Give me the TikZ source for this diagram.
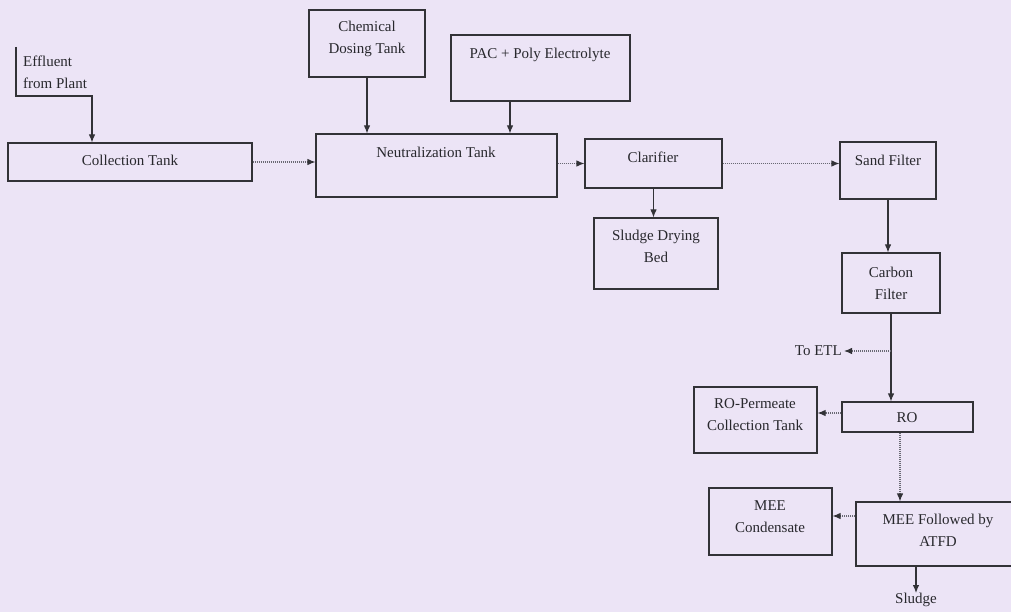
\documentclass[tikz,border=0pt]{standalone}
\usepackage{fontspec}
\setmainfont{Liberation Serif}
\usetikzlibrary{arrows.meta}
\definecolor{bgcol}{RGB}{236,228,246}
\definecolor{linecol}{RGB}{50,50,55}
\definecolor{dotcol}{RGB}{105,105,115}
\definecolor{txtcol}{RGB}{40,40,45}
\tikzset{
  box/.style={draw=linecol, line width=1.1pt, inner sep=0pt, rectangle},
  lbl/.style={text=txtcol, font=\fontsize{15}{22}\selectfont, align=center, inner sep=0pt},
  solidarr/.style={draw=linecol, line width=1.1pt, -{Latex[length=8pt,width=6.5pt]}},
  dotarr/.style={draw=dotcol, line width=1.1pt, dash pattern=on 1.2pt off 0.8pt, -{Latex[length=8pt,width=6.5pt,fill=linecol,color=linecol]}},
}
\begin{document}
\begin{tikzpicture}[x=1pt,y=-1pt]
\fill[bgcol] (0,0) rectangle (1011,612);
\useasboundingbox (0,0) rectangle (1011,612);
\clip (0,0) rectangle (1011,612);

% boxes
\node[box, minimum width=244pt, minimum height=38pt] (coll) at (130,162) {};
\node[box, minimum width=116pt, minimum height=67pt] (chem) at (367,43.5) {};
\node[box, minimum width=179pt, minimum height=66pt] (pac) at (540.5,68) {};
\node[box, minimum width=241pt, minimum height=63pt] (neut) at (436.5,165.5) {};
\node[box, minimum width=137pt, minimum height=49pt] (clar) at (653.5,163.5) {};
\node[box, minimum width=96pt, minimum height=57pt] (sand) at (888,170.5) {};
\node[box, minimum width=124pt, minimum height=71pt] (sdb) at (656,253.5) {};
\node[box, minimum width=98pt, minimum height=60pt] (carb) at (891,283) {};
\node[box, minimum width=131pt, minimum height=30pt] (ro) at (907.5,417) {};
\node[box, minimum width=123pt, minimum height=66pt] (perm) at (755.5,420) {};
\node[box, minimum width=164pt, minimum height=64pt] (mee) at (938,534) {};
\node[box, minimum width=123pt, minimum height=67pt] (cond) at (770.5,521.5) {};

% texts
\node[lbl] (coll-t) at (130,160) {Collection Tank};
\node[lbl] (chem-t) at (367,39) {Chemical\\Dosing Tank};
\node[lbl] (pac-t) at (540,55) {PAC + Poly Electrolyte};
\node[lbl] (neut-t) at (436,152) {Neutralization Tank};
\node[lbl] (clar-t) at (653,157) {Clarifier};
\node[lbl] (sand-t) at (888,160) {Sand Filter};
\node[lbl] (sdb-t) at (656,246) {Sludge Drying\\Bed};
\node[lbl] (carb-t) at (891,283) {Carbon\\Filter};
\node[lbl] (ro-t) at (907,418) {RO};
\node[lbl] (perm-t) at (755,415) {RO-Permeate\\Collection Tank};
\node[lbl] (mee-t) at (938,530) {MEE Followed by\\ATFD};
\node[lbl] (cond-t) at (770,517) {MEE\\Condensate};
\node[lbl, align=left, anchor=west] (eff-t) at (23,72) {Effluent\\from Plant};
\node[lbl, anchor=east] (etl) at (842,351) {To ETL};
\node[lbl, anchor=north] (sludge) at (916,593) {Sludge};

% helper coordinates
\coordinate (e1) at (16,47);
\coordinate (e2) at (92,96);
\coordinate (pacx) at (510,0);
\coordinate (etlj) at (891,351);
\coordinate (rox) at (900,0);
\coordinate (meey) at (0,516);
\coordinate (roy) at (0,413);
\coordinate (sx) at (916,0);

% connectors
\draw[solidarr] (e1) |- (e2) -- (e2 |- coll.north);
\draw[dotarr] (coll.east) -- (coll.east -| neut.west);
\draw[solidarr] (chem.south) -- (chem.south |- neut.north);
\draw[solidarr] (pacx |- pac.south) -- (pacx |- neut.north);
\draw[dotarr] (clar.west -| neut.east) -- (clar.west);
\draw[dotarr] (clar.east) -- (clar.east -| sand.west);
\draw[solidarr] (clar.south) -- (clar.south |- sdb.north);
\draw[solidarr] (sand.south) -- (sand.south |- carb.north);
\draw[solidarr] (carb.south) -- (carb.south |- ro.north);
\draw[dotarr] (carb.south |- etlj) -- ([xshift=2pt]etl.east);
\draw[dotarr] (roy -| ro.west) -- (roy -| perm.east);
\draw[dotarr] (rox |- ro.south) -- (rox |- mee.north);
\draw[dotarr] (meey -| mee.west) -- (meey -| cond.east);
\draw[solidarr] (sx |- mee.south) -- (sx |- sludge.north);
\end{tikzpicture}
\end{document}
